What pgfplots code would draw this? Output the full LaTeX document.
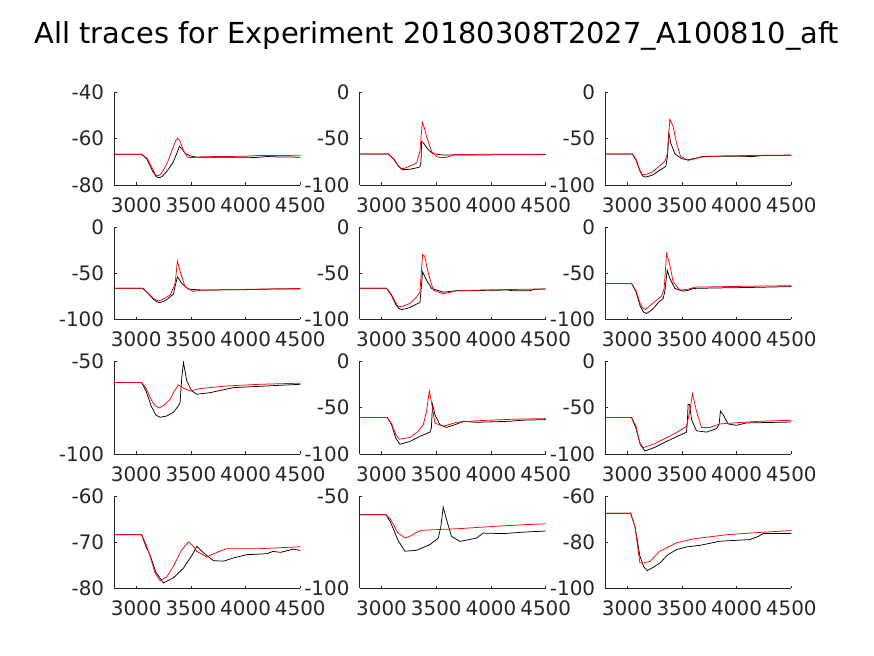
\documentclass[border=0pt]{standalone}
\usepackage{fontspec}
\setmainfont{DejaVu Sans}
\usepackage{pgfplots}
\pgfplotsset{compat=1.18}
\definecolor{axc}{rgb}{0.15,0.15,0.15}
\pgfplotsset{panel/.style={
  scale only axis, width=186bp, height=92.7bp, anchor=south west,
  xmin=2800, xmax=4500, xtick={3000,3500,4000,4500},
  axis x line=bottom, axis y line=left, axis line style={-, axc, line width=0.5bp},
  tick align=inside, major tick length=2.5bp, tick style={axc, line width=0.5bp},
  /pgf/number format/assume math mode=true,
  /pgf/number format/set thousands separator={},
  ticklabel style={font=\fontsize{20}{20}\selectfont, text=axc, inner sep=0pt},
  xticklabel style={anchor=north, yshift=-12.5bp},
  yticklabel style={anchor=east, xshift=-10bp},
  clip=true,
},
bk/.style={black, line width=0.75bp},
rd/.style={red, line width=0.75bp}}
\begin{document}
\begin{tikzpicture}
\path[use as bounding box] (0,0) rectangle (874bp,656bp);
\node[anchor=base, font=\fontsize{29}{29}\selectfont] at (437bp,612bp) {All traces for Experiment 20180308T2027\_A100810\_aft};
% Row 1
\begin{axis}[panel, at={(114.3bp,471bp)}, ymin=-80, ymax=-40, ytick={-80,-60,-40}]
\addplot[bk] coordinates {(2800,-66.7) (3050,-66.7) (3100,-69) (3150,-74) (3180,-76.2) (3200,-76.8) (3220,-76.7) (3240,-76.2) (3290,-73.5) (3340,-70) (3370,-66.5) (3395,-63.3) (3420,-64.5) (3450,-66.5) (3500,-67.5) (3550,-68) (3800,-68) (4100,-68.1) (4200,-67.7) (4300,-67.9) (4500,-68)};
\addplot[rd] coordinates {(2800,-66.7) (3050,-66.7) (3100,-68.5) (3150,-73) (3175,-75.5) (3190,-76) (3210,-75.8) (3230,-75) (3280,-71) (3320,-66) (3360,-61) (3380,-59.8) (3400,-61) (3430,-65) (3470,-68) (3520,-68.2) (3600,-67.8) (4000,-67.6) (4100,-67.3) (4500,-67.2)};
\end{axis}
\begin{axis}[panel, at={(359.7bp,471bp)}, ymin=-100, ymax=0, ytick={-100,-50,0}]
\addplot[bk] coordinates {(2800,-66.7) (3062,-66.7) (3110,-72) (3150,-79) (3180,-82.8) (3200,-83.5) (3260,-83) (3320,-81.5) (3350,-80.6) (3360,-75) (3366,-53) (3385,-55) (3426,-62) (3472,-66.3) (3550,-67.5) (3700,-67.7) (4500,-67.2)};
\addplot[rd] coordinates {(2800,-66.7) (3062,-66.7) (3110,-71.5) (3150,-78.5) (3183,-82.4) (3210,-82) (3250,-80) (3320,-76.3) (3350,-63.8) (3372,-32.3) (3390,-38) (3411,-47.7) (3457,-63.8) (3500,-69) (3533,-70.3) (3580,-70.5) (3624,-69) (3660,-67.2) (4000,-66.8) (4500,-66.7)};
\end{axis}
\begin{axis}[panel, at={(605.3bp,471bp)}, ymin=-100, ymax=0, ytick={-100,-50,0}]
\addplot[bk] coordinates {(2800,-66.7) (3049,-66.7) (3080,-73) (3120,-86) (3145,-90.5) (3162,-91.4) (3200,-90.5) (3238,-88.9) (3300,-84) (3353,-79.9) (3368,-69.2) (3381,-44) (3399,-55) (3436,-66.3) (3497,-71.7) (3557,-72.8) (3630,-71) (3694,-69.2) (3900,-68.9) (4150,-69.2) (4250,-68.2) (4500,-68)};
\addplot[rd] coordinates {(2800,-66.7) (3049,-66.7) (3080,-72) (3115,-84) (3135,-88) (3147,-88.9) (3190,-88) (3238,-85.3) (3300,-79) (3344,-74.6) (3366,-67.4) (3390,-29) (3420,-36.9) (3451,-54.8) (3487,-69) (3557,-73.5) (3610,-72) (3664,-69.9) (3900,-68.5) (4250,-68) (4500,-67.7)};
\end{axis}
% Row 2
\begin{axis}[panel, at={(114.3bp,336.5bp)}, ymin=-100, ymax=0, ytick={-100,-50,0}]
\addplot[bk] coordinates {(2800,-66.2) (3059,-66.2) (3110,-72) (3160,-78.5) (3190,-81) (3218,-81.7) (3250,-80.5) (3280,-78.5) (3340,-72.7) (3360,-62) (3377,-54) (3395,-57) (3417,-61.2) (3478,-67.3) (3600,-68.2) (4000,-67.8) (4300,-67) (4500,-67)};
\addplot[rd] coordinates {(2800,-66.2) (3059,-66.2) (3110,-71.5) (3160,-77.5) (3203,-80.2) (3230,-79) (3260,-77) (3310,-73.7) (3340,-66) (3356,-61.2) (3377,-37) (3407,-50.4) (3447,-64.7) (3523,-69.8) (3580,-68.5) (4000,-67.5) (4500,-66.5)};
\end{axis}
\begin{axis}[panel, at={(359.7bp,336.5bp)}, ymin=-100, ymax=0, ytick={-100,-50,0}]
\addplot[bk] coordinates {(2800,-66.2) (3046,-66.2) (3090,-74) (3130,-84) (3160,-88.3) (3183,-89.2) (3220,-88.5) (3259,-87) (3300,-84.5) (3350,-81.7) (3358,-72) (3375,-48.6) (3411,-57.6) (3457,-66.5) (3563,-70.5) (3685,-69) (4000,-68.5) (4150,-68.2) (4200,-69) (4350,-69) (4400,-67.5) (4500,-67)};
\addplot[rd] coordinates {(2800,-66.2) (3046,-66.2) (3090,-73) (3130,-82) (3153,-86.3) (3200,-85.5) (3259,-82.7) (3310,-77) (3350,-70.9) (3375,-29.9) (3395,-32) (3427,-50.4) (3472,-68.3) (3563,-72.3) (3685,-69) (4000,-68) (4500,-67)};
\end{axis}
\begin{axis}[panel, at={(605.3bp,336.5bp)}, ymin=-100, ymax=0, ytick={-100,-50,0}]
\addplot[bk] coordinates {(2800,-61.2) (3040,-61.2) (3080,-70) (3120,-86) (3150,-92) (3177,-93.5) (3210,-91) (3240,-88) (3290,-81) (3329,-77.3) (3345,-69) (3366,-46.8) (3390,-55.8) (3436,-66.5) (3512,-69.4) (3560,-68.5) (3603,-66.5) (3800,-66) (4100,-65.5) (4500,-64.5)};
\addplot[rd] coordinates {(2800,-61.2) (3040,-61.2) (3080,-69) (3120,-83) (3140,-87.5) (3162,-89.2) (3190,-87) (3230,-83) (3314,-74.8) (3338,-66.5) (3360,-28.8) (3390,-41.4) (3420,-59.4) (3481,-68.3) (3557,-67.3) (3618,-65.1) (3900,-64.5) (4500,-63.5)};
\end{axis}
% Row 3
\begin{axis}[panel, at={(114.3bp,202bp)}, ymin=-100, ymax=-50, ytick={-100,-50}]
\addplot[bk] coordinates {(2800,-61.5) (3050,-61.5) (3090,-66) (3140,-74.5) (3180,-79) (3218,-80.2) (3280,-79.5) (3340,-77.5) (3380,-74.5) (3401,-72.4) (3417,-58.7) (3432,-50.5) (3462,-60.5) (3508,-66) (3554,-67.8) (3676,-66.9) (3890,-64.2) (4195,-63.3) (4500,-62.4)};
\addplot[rd] coordinates {(2800,-61.5) (3050,-61.5) (3090,-64.5) (3140,-71) (3180,-74.3) (3212,-75.1) (3260,-73.5) (3310,-70.5) (3350,-66) (3386,-62.7) (3432,-64.5) (3493,-66) (3585,-64.7) (3829,-63.3) (4134,-62.4) (4500,-61.8)};
\end{axis}
\begin{axis}[panel, at={(359.7bp,202bp)}, ymin=-100, ymax=0, ytick={-100,-50,0}]
\addplot[bk] coordinates {(2800,-60.7) (3052,-60.7) (3090,-68) (3130,-83) (3168,-89.5) (3259,-86.5) (3350,-81) (3442,-76.4) (3455,-72) (3466,-46.5) (3487,-57.5) (3533,-68.4) (3594,-71.3) (3680,-68) (3746,-64.7) (3867,-65.8) (4172,-64.7) (4300,-63.5) (4500,-62.9)};
\addplot[rd] coordinates {(2800,-60.7) (3052,-60.7) (3090,-67) (3130,-79) (3162,-84) (3259,-82.2) (3330,-76) (3381,-68.4) (3411,-53.8) (3436,-32) (3457,-44.7) (3487,-66.5) (3563,-70.2) (3685,-65.8) (3900,-64) (4200,-62.5) (4500,-61.8)};
\end{axis}
\begin{axis}[panel, at={(605.3bp,202bp)}, ymin=-100, ymax=0, ytick={-100,-50,0}]
\addplot[bk] coordinates {(2800,-60.7) (3040,-60.7) (3080,-72) (3120,-90) (3162,-96.7) (3250,-93) (3350,-87) (3450,-81.5) (3542,-76.4) (3550,-65) (3557,-46.5) (3570,-46.5) (3588,-62.9) (3633,-74.9) (3725,-76.4) (3816,-72.7) (3840,-68) (3852,-53.8) (3877,-57.5) (3922,-67.6) (3998,-69.1) (4089,-66.5) (4300,-66) (4500,-65.5)};
\addplot[rd] coordinates {(2800,-60.7) (3040,-60.7) (3080,-70) (3115,-88) (3147,-93.1) (3250,-89) (3350,-83) (3450,-77) (3542,-70.2) (3572,-53.8) (3597,-34.9) (3633,-53.8) (3679,-71.3) (3755,-71.3) (3846,-67.6) (3968,-66.5) (4211,-64.7) (4500,-63.6)};
\end{axis}
% Row 4
\begin{axis}[panel, at={(114.3bp,67.5bp)}, ymin=-80, ymax=-60, ytick={-80,-70,-60}]
\addplot[bk] coordinates {(2800,-68.4) (3050,-68.4) (3090,-71) (3127,-72.8) (3180,-76.5) (3249,-78.8) (3340,-77.7) (3432,-75.6) (3508,-72.9) (3554,-70.9) (3615,-72.3) (3707,-74) (3799,-74.1) (3890,-73.4) (4012,-72.7) (4195,-72.5) (4250,-72) (4320,-72.2) (4439,-71.5) (4500,-71.8)};
\addplot[rd] coordinates {(2800,-68.4) (3050,-68.4) (3090,-70.5) (3127,-73) (3170,-76.5) (3218,-78.3) (3280,-77.5) (3340,-75.2) (3417,-71.6) (3478,-70) (3520,-70.8) (3554,-72) (3645,-73.2) (3737,-72.2) (3829,-71.4) (4134,-71.4) (4500,-71)};
\end{axis}
\begin{axis}[panel, at={(359.7bp,67.5bp)}, ymin=-100, ymax=-50, ytick={-100,-50}]
\addplot[bk] coordinates {(2800,-60.2) (3040,-60.2) (3080,-64) (3150,-74) (3214,-79.9) (3320,-79.4) (3442,-76.3) (3518,-72.8) (3542,-66.5) (3563,-56.1) (3594,-62.9) (3639,-71.9) (3716,-74.6) (3868,-72.8) (3929,-70.1) (4111,-70.4) (4324,-69.5) (4500,-69)};
\addplot[rd] coordinates {(2800,-60.2) (3040,-60.2) (3080,-62.5) (3150,-70) (3214,-72.8) (3270,-71.5) (3320,-69.7) (3366,-68.6) (3716,-67.7) (4020,-66.5) (4300,-65.6) (4500,-65.1)};
\end{axis}
\begin{axis}[panel, at={(605.3bp,67.5bp)}, ymin=-100, ymax=-60, ytick={-100,-80,-60}]
\addplot[bk] coordinates {(2800,-67.5) (3031,-67.5) (3071,-73.2) (3116,-86) (3150,-90.5) (3183,-92.3) (3240,-90.8) (3299,-89) (3370,-85.5) (3451,-83.2) (3550,-82) (3664,-81.4) (3846,-79.6) (4120,-78.9) (4200,-77.5) (4242,-76.3) (4500,-76.3)};
\addplot[rd] coordinates {(2800,-67.5) (3031,-67.5) (3071,-73.2) (3116,-89) (3147,-89) (3208,-88.3) (3299,-83.9) (3451,-80.3) (3603,-78.6) (3907,-76.8) (4211,-75.8) (4500,-75)};
\end{axis}
\end{tikzpicture}
\end{document}
